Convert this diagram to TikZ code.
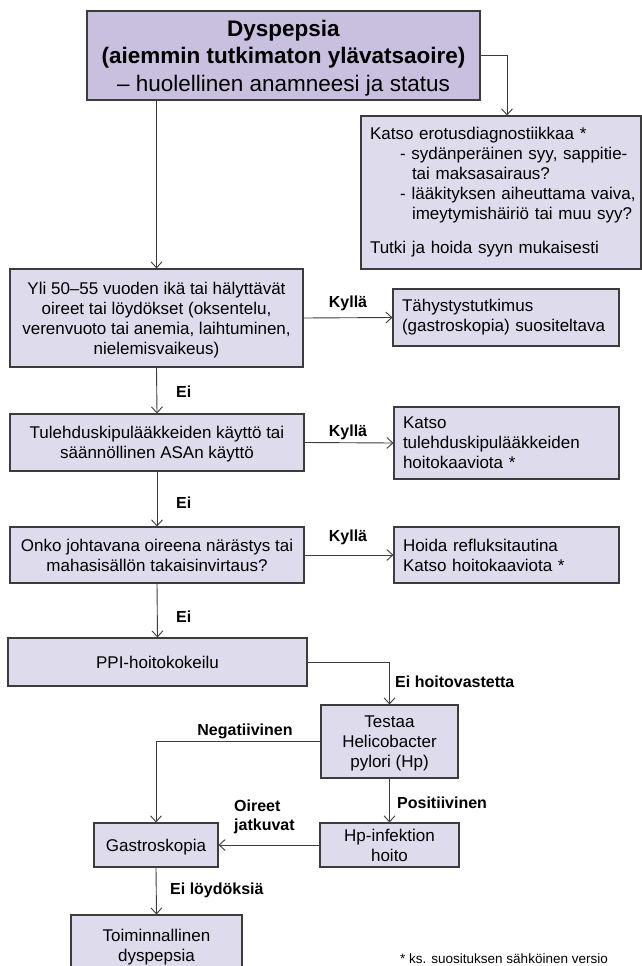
\documentclass[tikz,border=0pt]{standalone}
\usepackage{fontspec}
\setmainfont{Liberation Sans}
\usetikzlibrary{arrows.meta}
\definecolor{topfill}{RGB}{200,192,222}
\definecolor{boxfill}{RGB}{222,219,236}
\definecolor{edge}{RGB}{60,60,60}

\begin{document}
\begin{tikzpicture}[x=1pt,y=-1pt,
		plain/.style={draw=edge,line width=1.1pt,fill=boxfill,inner sep=2pt,font=\fontsize{17}{20}\selectfont},
		box/.style={plain,align=center,text depth=-2pt},
		lbox/.style={plain,align=left,inner xsep=9pt,inner ysep=0pt},
		topbox/.style={box,fill=topfill,font=\fontsize{22.5}{27.5}\selectfont},
		lbl/.style={inner sep=0pt,font=\bfseries\fontsize{16}{19}\selectfont},
		arr/.style={draw=edge,line width=0.9pt,-{Straight Barb[length=6pt,width=11pt]}}]
			\useasboundingbox (0,0) rectangle (642,966);
			\node[topbox,minimum width=393pt,minimum height=89pt] (dysp) at (283.5,55.5) {\textbf{Dyspepsia}\\\textbf{(aiemmin tutkimaton ylävatsaoire)}\\– huolellinen anamneesi ja status};
			\node[lbox,minimum height=153pt,text width=262pt] (ddx) at (501,192.5) {Katso erotusdiagnostiikkaa *\\\mbox{\hspace*{30pt}- sydänperäinen syy, sappitie-}\\\mbox{\hspace*{42pt}tai maksasairaus?}\\\mbox{\hspace*{30pt}-\hspace*{6pt}lääkityksen aiheuttama vaiva,}\\\mbox{\hspace*{42pt}imeytymishäiriö tai muu syy?}\\[14pt]Tutki ja hoida syyn mukaisesti};
			\node[box,minimum width=293pt,minimum height=98pt] (q1) at (156.5,318) {Yli 50–55 vuoden ikä tai hälyttävät\\oireet tai löydökset (oksentelu,\\verenvuoto tai anemia, laihtuminen,\\nielemisvaikeus)};
			\node[lbox,minimum height=57pt,text width=208pt] (endo) at (506,317.5) {Tähystystutkimus\\\mbox{(gastroskopia) suositeltava}};
			\node[box,minimum width=294pt,minimum height=57pt] (q2) at (157,442.5) {Tulehduskipulääkkeiden käyttö tai\\säännöllinen ASAn käyttö};
			\node[lbox,minimum height=72pt,text width=207pt] (nsaid) at (506.5,443) {Katso\\tulehduskipulääkkeiden\\hoitokaaviota *};
			\node[box,minimum width=294pt,minimum height=56pt] (q3) at (157,555) {Onko johtavana oireena närästys tai\\mahasisällön takaisinvirtaus?};
			\node[lbox,minimum height=56pt,text width=207pt] (gerd) at (506.5,555) {Hoida refluksitautina\\Katso hoitokaaviota *};
			\node[box,minimum width=299pt,minimum height=48pt] (ppi) at (157.5,662) {PPI-hoitokokeilu};
			\node[box,minimum width=137pt,minimum height=73pt] (hp) at (389.5,741.5) {Testaa\\Helicobacter\\pylori (Hp)};
			\node[box,minimum width=139pt,minimum height=44pt] (hpt) at (389.5,845) {Hp-infektion\\hoito};
			\node[box,minimum width=124pt,minimum height=44pt] (gastro) at (156,845) {Gastroskopia};
			\node[box,minimum width=171pt,minimum height=60pt] (func) at (156.5,945) {Toiminnallinen\\dyspepsia};
			\node[anchor=base west,inner sep=0pt,font=\fontsize{13.5}{16}\selectfont] (note) at (400,963) {* ks. suosituksen sähköinen versio};
			\node[lbl] (yes1) at (348,303) {Kyllä};
			\node[lbl] (yes2) at (348,432) {Kyllä};
			\node[lbl] (yes3) at (348,537) {Kyllä};
			\node[lbl,anchor=west] (no1) at (176,392) {Ei};
			\node[lbl,anchor=west] (no2) at (176,503) {Ei};
			\node[lbl,anchor=west] (no3) at (176,617) {Ei};
			\node[lbl,anchor=west] (noresp) at (395,682) {Ei hoitovastetta};
			\node[lbl] (neg) at (245,731) {Negatiivinen};
			\node[lbl,anchor=west] (pos) at (397,803) {Positiivinen};
			\node[lbl,anchor=west,align=left] (persist) at (234,817) {Oireet\\jatkuvat};
			\node[lbl,anchor=west] (nofind) at (170,890) {Ei löydöksiä};
			\draw[arr] (dysp.south -| q1.north) -- (q1.north);
			\draw[arr] (dysp.east) -| ([xshift=6pt]ddx.north);
			\draw[arr] (q1.east) -- (endo.west);
			\draw[arr] (q1.south) -- (q2.north);
			\draw[arr] (q2.east) -- (nsaid.west);
			\draw[arr] (q2.south) -- (q3.north);
			\draw[arr] (q3.east) -- (gerd.west);
			\draw[arr] (q3.south) -- (ppi.north);
			\draw[arr] (ppi.east) -| (hp.north);
			\draw[arr] (hp.west) -| (gastro.north);
			\draw[arr] (hp.south) -- (hpt.north);
			\draw[arr] (hpt.west) -- (gastro.east);
			\draw[arr] (gastro.south) -- (func.north);
		\end{tikzpicture}
\end{document}
